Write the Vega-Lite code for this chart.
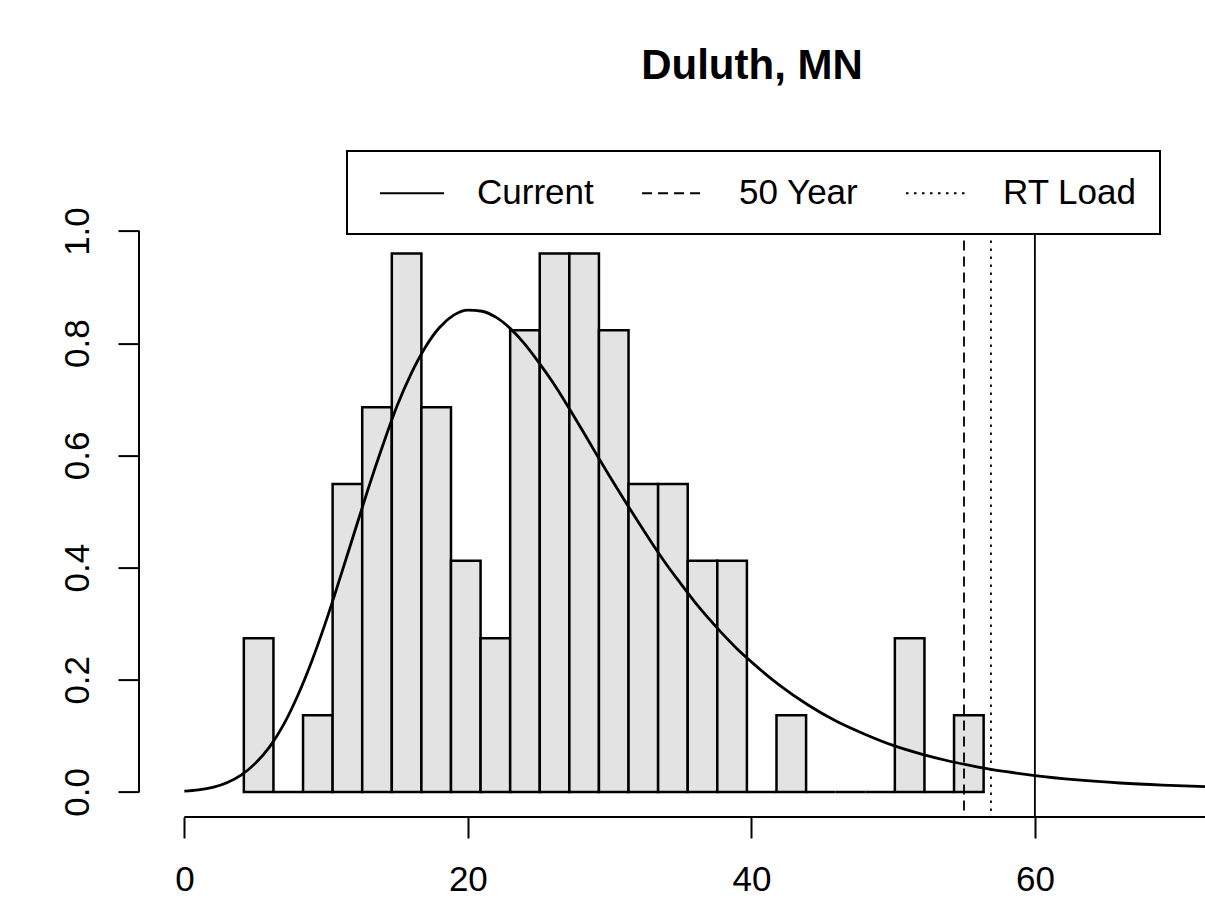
{
  "$schema": "https://vega.github.io/schema/vega-lite/v6.json",
  "width": 1066,
  "height": 608.4,
  "autosize": "none",
  "padding": {"left": 139, "top": 208.6, "right": 0, "bottom": 103},
  "background": "white",
  "config": {"view": {"stroke": null}, "font": "Liberation Sans"},
  "title": {"text": "Duluth, MN", "fontSize": 42, "font": "Liberation Sans", "fontWeight": "bold", "color": "black", "anchor": "middle", "dx": 80, "offset": 62},
  "datasets": {
    "bins": [
      {"x0": 4.196, "x1": 6.284, "h": 0.274},
      {"x0": 6.284, "x1": 8.371, "h": 0},
      {"x0": 8.371, "x1": 10.459, "h": 0.137},
      {"x0": 10.459, "x1": 12.546, "h": 0.549},
      {"x0": 12.546, "x1": 14.634, "h": 0.686},
      {"x0": 14.634, "x1": 16.721, "h": 0.96},
      {"x0": 16.721, "x1": 18.809, "h": 0.686},
      {"x0": 18.809, "x1": 20.896, "h": 0.412},
      {"x0": 20.896, "x1": 22.984, "h": 0.274},
      {"x0": 22.984, "x1": 25.071, "h": 0.823},
      {"x0": 25.071, "x1": 27.159, "h": 0.96},
      {"x0": 27.159, "x1": 29.246, "h": 0.96},
      {"x0": 29.246, "x1": 31.334, "h": 0.823},
      {"x0": 31.334, "x1": 33.421, "h": 0.549},
      {"x0": 33.421, "x1": 35.509, "h": 0.549},
      {"x0": 35.509, "x1": 37.596, "h": 0.412},
      {"x0": 37.596, "x1": 39.684, "h": 0.412},
      {"x0": 39.684, "x1": 41.771, "h": 0},
      {"x0": 41.771, "x1": 43.859, "h": 0.137},
      {"x0": 43.859, "x1": 45.946, "h": 0},
      {"x0": 45.946, "x1": 48.034, "h": 0},
      {"x0": 48.034, "x1": 50.121, "h": 0},
      {"x0": 50.121, "x1": 52.209, "h": 0.274},
      {"x0": 52.209, "x1": 54.296, "h": 0},
      {"x0": 54.296, "x1": 56.384, "h": 0.137}
    ],
    "curve": [
      {"x": 0, "d": 0.0015}, {"x": 1, "d": 0.0037}, {"x": 2, "d": 0.0082}, {"x": 3, "d": 0.0165},
      {"x": 4, "d": 0.03}, {"x": 5, "d": 0.051}, {"x": 6, "d": 0.08}, {"x": 7, "d": 0.12},
      {"x": 8, "d": 0.172}, {"x": 9, "d": 0.234}, {"x": 10, "d": 0.305}, {"x": 11, "d": 0.383},
      {"x": 12, "d": 0.463}, {"x": 13, "d": 0.543}, {"x": 14, "d": 0.618}, {"x": 15, "d": 0.688},
      {"x": 16, "d": 0.746}, {"x": 17, "d": 0.793}, {"x": 18, "d": 0.828}, {"x": 19, "d": 0.85},
      {"x": 20, "d": 0.859}, {"x": 21, "d": 0.857}, {"x": 22, "d": 0.846}, {"x": 23, "d": 0.826},
      {"x": 24, "d": 0.799}, {"x": 25, "d": 0.766}, {"x": 26, "d": 0.73}, {"x": 27, "d": 0.69},
      {"x": 28, "d": 0.648}, {"x": 29, "d": 0.605}, {"x": 30, "d": 0.563}, {"x": 31, "d": 0.522},
      {"x": 32, "d": 0.482}, {"x": 33, "d": 0.443}, {"x": 34, "d": 0.406}, {"x": 35, "d": 0.372},
      {"x": 36, "d": 0.339}, {"x": 37, "d": 0.309}, {"x": 38, "d": 0.281}, {"x": 39, "d": 0.255},
      {"x": 40, "d": 0.232}, {"x": 42, "d": 0.19}, {"x": 44, "d": 0.155}, {"x": 46, "d": 0.126},
      {"x": 48, "d": 0.103}, {"x": 50, "d": 0.083}, {"x": 52, "d": 0.0675}, {"x": 54, "d": 0.0548},
      {"x": 56, "d": 0.0445}, {"x": 58, "d": 0.0362}, {"x": 60, "d": 0.0292}, {"x": 63, "d": 0.0215},
      {"x": 66, "d": 0.016}, {"x": 69, "d": 0.0122}, {"x": 72, "d": 0.0095}
    ],
    "refs": [
      {"value": 60, "type": "Current"},
      {"value": 55, "type": "50 Year"},
      {"value": 56.9, "type": "RT Load"}
    ]
  },
  "layer": [
    {
      "data": {"name": "bins"},
      "mark": {"type": "rect", "fill": "#e3e3e3", "stroke": "black", "strokeWidth": 2.5},
      "encoding": {
        "x": {"field": "x0", "type": "quantitative",
          "scale": {"domain": [-3.2, 72], "nice": false, "zero": false},
          "axis": {"values": [0, 20, 40, 60], "format": "d", "domain": false, "grid": false, "title": null,
            "tickSize": 21, "tickWidth": 2, "tickColor": "black", "labelFontSize": 35, "labelColor": "black",
            "labelFont": "Liberation Sans", "labelPadding": 24, "labelFlush": false, "labelOverlap": false}},
        "x2": {"field": "x1"},
        "y": {"field": "h", "type": "quantitative",
          "scale": {"domain": [-0.0446, 1.04], "nice": false, "zero": false},
          "axis": {"values": [0, 0.2, 0.4, 0.6, 0.8, 1], "format": ".1f", "domain": false, "grid": false, "title": null,
            "tickSize": 21, "tickWidth": 2, "tickColor": "black", "labelFontSize": 35, "labelColor": "black",
            "labelFont": "Liberation Sans", "labelAngle": -90, "labelPadding": 23, "labelFlush": false, "labelOverlap": false}},
        "y2": {"datum": 0}
      }
    },
    {
      "data": {"name": "curve"},
      "mark": {"type": "line", "color": "black", "strokeWidth": 2.8, "interpolate": "monotone"},
      "encoding": {
        "x": {"field": "x", "type": "quantitative"},
        "y": {"field": "d", "type": "quantitative"}
      }
    },
    {
      "data": {"name": "refs"},
      "mark": {"type": "rule", "color": "black", "strokeWidth": 1.8},
      "encoding": {
        "x": {"field": "value", "type": "quantitative"},
        "strokeDash": {"field": "type", "type": "nominal",
          "scale": {"domain": ["Current", "50 Year", "RT Load"], "range": [[1, 0], [10, 6], [2.5, 5.5]]},
          "legend": {"orient": "none", "legendX": 208, "legendY": -57.6, "direction": "horizontal", "title": null,
            "symbolType": "stroke", "symbolSize": 4096, "symbolStrokeWidth": 2, "symbolStrokeColor": "black",
            "labelFontSize": 35, "labelFont": "Liberation Sans", "labelColor": "black", "labelOffset": 32,
            "columnPadding": 37, "padding": 22.5, "symbolOffset": 9.5, "strokeColor": "black",
            "fillColor": "white", "labelLimit": 400,
            "encode": {"legend": {"update": {"strokeWidth": {"value": 2}}},
              "symbols": {"update": {"y": {"value": 19.5}}},
              "labels": {"update": {"y": {"value": 19.5}, "baseline": {"value": "middle"}}}}}}
      }
    },
    {
      "data": {"values": [{}]},
      "mark": {"type": "rule", "color": "black", "strokeWidth": 2},
      "encoding": {
        "x": {"datum": 0},
        "x2": {"datum": 72},
        "y": {"datum": -0.0446}
      }
    },
    {
      "data": {"values": [{}]},
      "mark": {"type": "rule", "color": "black", "strokeWidth": 2},
      "encoding": {
        "x": {"datum": -3.2},
        "y": {"datum": 0},
        "y2": {"datum": 1}
      }
    }
  ]
}
